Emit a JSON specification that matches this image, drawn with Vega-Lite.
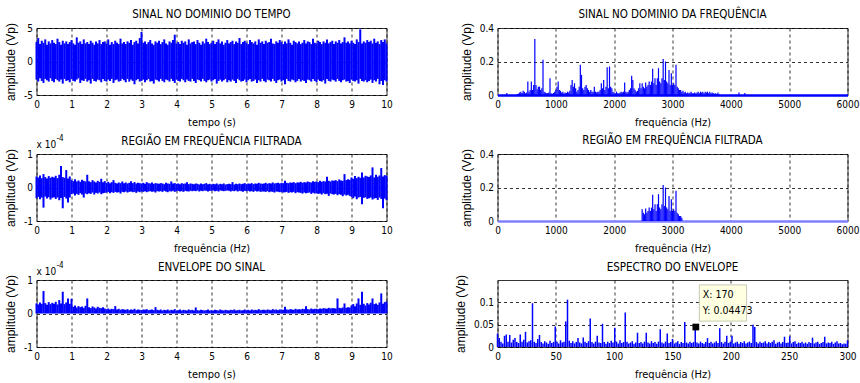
{
"$schema":"https://vega.github.io/schema/vega-lite/v6.json",
"background":"white",
"padding":{"left":3.5,"top":8,"right":0,"bottom":0},
"columns":2,
"spacing":{"row":59,"column":111},
"bounds":"flush",
"datasets":{
"ts":[
{"t":0,"a":2.9,"b":-2.7,"c":0.33,"d":-0.32,"e":0.30},
{"t":0.05,"a":3.5,"b":-3.0,"c":0.30,"d":-0.28,"e":0.27},
{"t":0.1,"a":2.6,"b":-2.5,"c":0.36,"d":-0.35,"e":0.33},
{"t":0.15,"a":3.1,"b":-2.9,"c":0.28,"d":-0.30,"e":0.29},
{"t":0.2,"a":2.8,"b":-3.2,"c":0.40,"d":-0.60,"e":0.67},
{"t":0.25,"a":3.3,"b":-2.6,"c":0.31,"d":-0.27,"e":0.31},
{"t":0.3,"a":2.5,"b":-2.8,"c":0.27,"d":-0.33,"e":0.26},
{"t":0.35,"a":3.0,"b":-3.0,"c":0.34,"d":-0.29,"e":0.34},
{"t":0.4,"a":2.7,"b":-2.5,"c":0.29,"d":-0.36,"e":0.28},
{"t":0.45,"a":3.2,"b":-2.9,"c":0.32,"d":-0.31,"e":0.32},
{"t":0.5,"a":2.8,"b":-3.1,"c":0.30,"d":-0.29,"e":0.29},
{"t":0.55,"a":2.6,"b":-2.6,"c":0.35,"d":-0.34,"e":0.35},
{"t":0.6,"a":3.4,"b":-2.8,"c":0.28,"d":-0.30,"e":0.27},
{"t":0.65,"a":2.9,"b":-3.0,"c":0.38,"d":-0.38,"e":0.40},
{"t":0.7,"a":2.5,"b":-2.7,"c":0.64,"d":-0.31,"e":0.30},
{"t":0.75,"a":3.1,"b":-3.3,"c":0.31,"d":-0.62,"e":0.65},
{"t":0.8,"a":2.7,"b":-2.6,"c":0.29,"d":-0.28,"e":0.28},
{"t":0.85,"a":3.0,"b":-2.9,"c":0.52,"d":-0.33,"e":0.33},
{"t":0.9,"a":2.6,"b":-2.8,"c":0.27,"d":-0.45,"e":0.45},
{"t":0.95,"a":2.9,"b":-3.1,"c":0.33,"d":-0.30,"e":0.29},
{"t":1,"a":3.2,"b":-2.6,"c":0.22,"d":-0.20,"e":0.44},
{"t":1.05,"a":2.7,"b":-2.9,"c":0.19,"d":-0.18,"e":0.20},
{"t":1.1,"a":2.5,"b":-3.0,"c":0.25,"d":-0.24,"e":0.24},
{"t":1.15,"a":3.6,"b":-2.7,"c":0.18,"d":-0.19,"e":0.18},
{"t":1.2,"a":2.8,"b":-2.5,"c":0.21,"d":-0.22,"e":0.22},
{"t":1.25,"a":3.0,"b":-3.2,"c":0.17,"d":-0.17,"e":0.19},
{"t":1.3,"a":2.6,"b":-2.8,"c":0.23,"d":-0.21,"e":0.21},
{"t":1.35,"a":3.3,"b":-2.9,"c":0.20,"d":-0.30,"e":0.17},
{"t":1.4,"a":2.7,"b":-2.6,"c":0.18,"d":-0.18,"e":0.23},
{"t":1.45,"a":2.9,"b":-3.0,"c":0.38,"d":-0.20,"e":0.45},
{"t":1.5,"a":2.6,"b":-2.8,"c":0.19,"d":-0.17,"e":0.19},
{"t":1.55,"a":3.1,"b":-3.3,"c":0.16,"d":-0.19,"e":0.16},
{"t":1.6,"a":2.8,"b":-2.6,"c":0.22,"d":-0.15,"e":0.21},
{"t":1.65,"a":2.5,"b":-2.9,"c":0.18,"d":-0.21,"e":0.18},
{"t":1.7,"a":3.0,"b":-3.0,"c":0.15,"d":-0.16,"e":0.15},
{"t":1.75,"a":2.7,"b":-2.7,"c":0.20,"d":-0.18,"e":0.20},
{"t":1.8,"a":3.2,"b":-2.8,"c":0.17,"d":-0.15,"e":0.17},
{"t":1.85,"a":2.6,"b":-3.1,"c":0.26,"d":-0.20,"e":0.16},
{"t":1.9,"a":2.9,"b":-2.6,"c":0.16,"d":-0.17,"e":0.19},
{"t":1.95,"a":3.0,"b":-2.9,"c":0.19,"d":-0.16,"e":0.15},
{"t":2,"a":2.7,"b":-3.0,"c":0.14,"d":-0.15,"e":0.13},
{"t":2.05,"a":3.3,"b":-2.7,"c":0.17,"d":-0.13,"e":0.15},
{"t":2.1,"a":2.5,"b":-2.9,"c":0.13,"d":-0.17,"e":0.12},
{"t":2.15,"a":2.9,"b":-2.6,"c":0.16,"d":-0.14,"e":0.14},
{"t":2.2,"a":2.6,"b":-3.2,"c":0.22,"d":-0.16,"e":0.13},
{"t":2.25,"a":3.1,"b":-2.8,"c":0.14,"d":-0.13,"e":0.22},
{"t":2.3,"a":2.8,"b":-2.7,"c":0.12,"d":-0.15,"e":0.12},
{"t":2.35,"a":2.6,"b":-3.0,"c":0.15,"d":-0.14,"e":0.14},
{"t":2.4,"a":3.4,"b":-2.9,"c":0.13,"d":-0.18,"e":0.11},
{"t":2.45,"a":2.7,"b":-2.6,"c":0.18,"d":-0.13,"e":0.13},
{"t":2.5,"a":2.9,"b":-2.8,"c":0.13,"d":-0.14,"e":0.12},
{"t":2.55,"a":2.6,"b":-3.1,"c":0.15,"d":-0.12,"e":0.11},
{"t":2.6,"a":3.0,"b":-2.6,"c":0.12,"d":-0.15,"e":0.13},
{"t":2.65,"a":2.8,"b":-3.0,"c":0.14,"d":-0.13,"e":0.10},
{"t":2.7,"a":3.2,"b":-2.7,"c":0.19,"d":-0.12,"e":0.12},
{"t":2.75,"a":2.5,"b":-2.9,"c":0.13,"d":-0.14,"e":0.11},
{"t":2.8,"a":2.9,"b":-3.4,"c":0.16,"d":-0.13,"e":0.14},
{"t":2.85,"a":3.1,"b":-2.8,"c":0.12,"d":-0.16,"e":0.10},
{"t":2.9,"a":2.7,"b":-2.6,"c":0.14,"d":-0.12,"e":0.12},
{"t":2.95,"a":3.5,"b":-3.0,"c":0.13,"d":-0.14,"e":0.11},
{"t":3,"a":4.4,"b":-2.9,"c":0.12,"d":-0.12,"e":0.10},
{"t":3.05,"a":2.8,"b":-2.7,"c":0.14,"d":-0.13,"e":0.12},
{"t":3.1,"a":3.0,"b":-3.1,"c":0.11,"d":-0.11,"e":0.11},
{"t":3.15,"a":2.6,"b":-2.8,"c":0.16,"d":-0.14,"e":0.13},
{"t":3.2,"a":2.9,"b":-2.6,"c":0.13,"d":-0.12,"e":0.10},
{"t":3.25,"a":3.2,"b":-3.0,"c":0.12,"d":-0.11,"e":0.11},
{"t":3.3,"a":2.7,"b":-2.9,"c":0.15,"d":-0.13,"e":0.12},
{"t":3.35,"a":2.5,"b":-3.3,"c":0.11,"d":-0.12,"e":0.10},
{"t":3.4,"a":3.0,"b":-2.7,"c":0.13,"d":-0.15,"e":0.19},
{"t":3.45,"a":2.8,"b":-2.8,"c":0.12,"d":-0.11,"e":0.11},
{"t":3.5,"a":3.1,"b":-3.0,"c":0.11,"d":-0.12,"e":0.10},
{"t":3.55,"a":2.6,"b":-2.6,"c":0.13,"d":-0.11,"e":0.12},
{"t":3.6,"a":2.9,"b":-2.9,"c":0.12,"d":-0.13,"e":0.09},
{"t":3.65,"a":3.3,"b":-3.1,"c":0.10,"d":-0.10,"e":0.11},
{"t":3.7,"a":2.7,"b":-2.7,"c":0.14,"d":-0.12,"e":0.10},
{"t":3.75,"a":2.5,"b":-2.8,"c":0.12,"d":-0.14,"e":0.12},
{"t":3.8,"a":3.0,"b":-3.0,"c":0.11,"d":-0.11,"e":0.09},
{"t":3.85,"a":2.8,"b":-2.6,"c":0.18,"d":-0.12,"e":0.11},
{"t":3.9,"a":3.2,"b":-2.9,"c":0.12,"d":-0.10,"e":0.10},
{"t":3.95,"a":4.0,"b":-3.2,"c":0.13,"d":-0.13,"e":0.13},
{"t":4,"a":2.7,"b":-2.7,"c":0.11,"d":-0.11,"e":0.09},
{"t":4.05,"a":2.9,"b":-2.9,"c":0.12,"d":-0.10,"e":0.10},
{"t":4.1,"a":2.6,"b":-3.0,"c":0.10,"d":-0.12,"e":0.12},
{"t":4.15,"a":3.1,"b":-2.6,"c":0.13,"d":-0.11,"e":0.09},
{"t":4.2,"a":2.8,"b":-2.8,"c":0.11,"d":-0.13,"e":0.11},
{"t":4.25,"a":3.0,"b":-3.1,"c":0.12,"d":-0.10,"e":0.10},
{"t":4.3,"a":2.5,"b":-2.7,"c":0.16,"d":-0.11,"e":0.09},
{"t":4.35,"a":3.3,"b":-2.9,"c":0.10,"d":-0.12,"e":0.12},
{"t":4.4,"a":2.7,"b":-3.0,"c":0.12,"d":-0.10,"e":0.10},
{"t":4.45,"a":2.9,"b":-2.6,"c":0.11,"d":-0.11,"e":0.11},
{"t":4.5,"a":3.0,"b":-2.9,"c":0.10,"d":-0.10,"e":0.09},
{"t":4.55,"a":2.6,"b":-3.2,"c":0.12,"d":-0.11,"e":0.18},
{"t":4.6,"a":3.2,"b":-2.7,"c":0.11,"d":-0.09,"e":0.10},
{"t":4.65,"a":2.8,"b":-2.8,"c":0.09,"d":-0.12,"e":0.09},
{"t":4.7,"a":2.5,"b":-3.0,"c":0.12,"d":-0.10,"e":0.11},
{"t":4.75,"a":3.0,"b":-2.6,"c":0.10,"d":-0.11,"e":0.10},
{"t":4.8,"a":2.7,"b":-2.9,"c":0.11,"d":-0.09,"e":0.09},
{"t":4.85,"a":3.4,"b":-3.1,"c":0.13,"d":-0.10,"e":0.10},
{"t":4.9,"a":2.9,"b":-2.8,"c":0.10,"d":-0.12,"e":0.12},
{"t":4.95,"a":2.6,"b":-2.7,"c":0.11,"d":-0.10,"e":0.09},
{"t":5,"a":2.8,"b":-3.0,"c":0.09,"d":-0.10,"e":0.10},
{"t":5.05,"a":3.1,"b":-2.8,"c":0.11,"d":-0.09,"e":0.09},
{"t":5.1,"a":2.6,"b":-2.6,"c":0.10,"d":-0.11,"e":0.11},
{"t":5.15,"a":2.9,"b":-3.3,"c":0.12,"d":-0.10,"e":0.10},
{"t":5.2,"a":3.3,"b":-2.9,"c":0.09,"d":-0.12,"e":0.09},
{"t":5.25,"a":2.7,"b":-2.7,"c":0.11,"d":-0.09,"e":0.12},
{"t":5.3,"a":3.0,"b":-3.0,"c":0.10,"d":-0.10,"e":0.10},
{"t":5.35,"a":2.5,"b":-2.8,"c":0.12,"d":-0.11,"e":0.09},
{"t":5.4,"a":2.8,"b":-2.6,"c":0.09,"d":-0.10,"e":0.11},
{"t":5.45,"a":3.2,"b":-3.1,"c":0.10,"d":-0.09,"e":0.10},
{"t":5.5,"a":2.7,"b":-2.8,"c":0.11,"d":-0.10,"e":0.09},
{"t":5.55,"a":2.9,"b":-3.0,"c":0.10,"d":-0.12,"e":0.11},
{"t":5.6,"a":3.1,"b":-2.7,"c":0.16,"d":-0.10,"e":0.10},
{"t":5.65,"a":2.6,"b":-2.9,"c":0.09,"d":-0.11,"e":0.12},
{"t":5.7,"a":3.0,"b":-3.2,"c":0.11,"d":-0.09,"e":0.09},
{"t":5.75,"a":2.8,"b":-2.6,"c":0.10,"d":-0.12,"e":0.10},
{"t":5.8,"a":3.5,"b":-2.8,"c":0.12,"d":-0.10,"e":0.11},
{"t":5.85,"a":2.6,"b":-3.0,"c":0.10,"d":-0.11,"e":0.09},
{"t":5.9,"a":2.9,"b":-2.9,"c":0.11,"d":-0.13,"e":0.10},
{"t":5.95,"a":3.1,"b":-2.7,"c":0.13,"d":-0.10,"e":0.12},
{"t":6,"a":2.8,"b":-3.1,"c":0.10,"d":-0.11,"e":0.10},
{"t":6.05,"a":2.6,"b":-2.8,"c":0.12,"d":-0.10,"e":0.11},
{"t":6.1,"a":3.2,"b":-2.6,"c":0.11,"d":-0.12,"e":0.09},
{"t":6.15,"a":2.9,"b":-3.0,"c":0.13,"d":-0.11,"e":0.12},
{"t":6.2,"a":2.7,"b":-2.9,"c":0.10,"d":-0.13,"e":0.10},
{"t":6.25,"a":3.0,"b":-2.7,"c":0.12,"d":-0.10,"e":0.11},
{"t":6.3,"a":2.5,"b":-3.2,"c":0.11,"d":-0.12,"e":0.10},
{"t":6.35,"a":3.3,"b":-2.8,"c":0.14,"d":-0.11,"e":0.13},
{"t":6.4,"a":2.8,"b":-3.0,"c":0.12,"d":-0.13,"e":0.10},
{"t":6.45,"a":3.0,"b":-2.6,"c":0.11,"d":-0.12,"e":0.11},
{"t":6.5,"a":2.6,"b":-2.9,"c":0.12,"d":-0.12,"e":0.11},
{"t":6.55,"a":3.1,"b":-3.1,"c":0.14,"d":-0.13,"e":0.10},
{"t":6.6,"a":2.8,"b":-2.7,"c":0.11,"d":-0.11,"e":0.12},
{"t":6.65,"a":2.9,"b":-2.8,"c":0.13,"d":-0.14,"e":0.11},
{"t":6.7,"a":3.4,"b":-3.0,"c":0.12,"d":-0.12,"e":0.10},
{"t":6.75,"a":2.7,"b":-2.6,"c":0.15,"d":-0.13,"e":0.13},
{"t":6.8,"a":2.6,"b":-2.9,"c":0.12,"d":-0.15,"e":0.11},
{"t":6.85,"a":3.0,"b":-3.2,"c":0.13,"d":-0.12,"e":0.12},
{"t":6.9,"a":2.8,"b":-2.8,"c":0.14,"d":-0.13,"e":0.10},
{"t":6.95,"a":3.2,"b":-2.7,"c":0.12,"d":-0.14,"e":0.12},
{"t":7,"a":2.9,"b":-3.0,"c":0.14,"d":-0.13,"e":0.12},
{"t":7.05,"a":2.6,"b":-2.8,"c":0.13,"d":-0.15,"e":0.11},
{"t":7.1,"a":3.0,"b":-3.4,"c":0.20,"d":-0.14,"e":0.20},
{"t":7.15,"a":2.7,"b":-2.6,"c":0.14,"d":-0.13,"e":0.12},
{"t":7.2,"a":3.3,"b":-2.9,"c":0.13,"d":-0.16,"e":0.11},
{"t":7.25,"a":2.8,"b":-3.0,"c":0.15,"d":-0.14,"e":0.13},
{"t":7.3,"a":2.5,"b":-2.7,"c":0.14,"d":-0.15,"e":0.12},
{"t":7.35,"a":3.1,"b":-2.8,"c":0.16,"d":-0.13,"e":0.11},
{"t":7.4,"a":2.9,"b":-3.1,"c":0.13,"d":-0.17,"e":0.14},
{"t":7.45,"a":2.7,"b":-2.9,"c":0.15,"d":-0.14,"e":0.12},
{"t":7.5,"a":3.0,"b":-2.6,"c":0.15,"d":-0.15,"e":0.13},
{"t":7.55,"a":2.6,"b":-3.0,"c":0.17,"d":-0.16,"e":0.12},
{"t":7.6,"a":2.8,"b":-2.8,"c":0.14,"d":-0.18,"e":0.14},
{"t":7.65,"a":3.2,"b":-2.9,"c":0.16,"d":-0.15,"e":0.13},
{"t":7.7,"a":2.7,"b":-3.2,"c":0.15,"d":-0.17,"e":0.22},
{"t":7.75,"a":3.0,"b":-2.7,"c":0.18,"d":-0.16,"e":0.13},
{"t":7.8,"a":2.9,"b":-2.8,"c":0.16,"d":-0.15,"e":0.12},
{"t":7.85,"a":2.6,"b":-3.0,"c":0.15,"d":-0.19,"e":0.15},
{"t":7.9,"a":3.4,"b":-2.6,"c":0.19,"d":-0.16,"e":0.13},
{"t":7.95,"a":2.8,"b":-2.9,"c":0.17,"d":-0.18,"e":0.14},
{"t":8,"a":2.7,"b":-3.1,"c":0.18,"d":-0.17,"e":0.14},
{"t":8.05,"a":3.1,"b":-2.7,"c":0.16,"d":-0.19,"e":0.13},
{"t":8.1,"a":2.9,"b":-2.9,"c":0.20,"d":-0.18,"e":0.15},
{"t":8.15,"a":2.6,"b":-3.0,"c":0.17,"d":-0.21,"e":0.14},
{"t":8.2,"a":3.0,"b":-2.8,"c":0.19,"d":-0.17,"e":0.16},
{"t":8.25,"a":2.8,"b":-3.3,"c":0.18,"d":-0.20,"e":0.15},
{"t":8.3,"a":3.3,"b":-2.6,"c":0.32,"d":-0.19,"e":0.14},
{"t":8.35,"a":2.7,"b":-2.9,"c":0.20,"d":-0.25,"e":0.17},
{"t":8.4,"a":2.9,"b":-3.0,"c":0.18,"d":-0.18,"e":0.15},
{"t":8.45,"a":3.1,"b":-2.7,"c":0.21,"d":-0.20,"e":0.16},
{"t":8.5,"a":2.6,"b":-2.8,"c":0.20,"d":-0.21,"e":0.16},
{"t":8.55,"a":3.0,"b":-3.0,"c":0.22,"d":-0.19,"e":0.15},
{"t":8.6,"a":2.8,"b":-2.6,"c":0.19,"d":-0.23,"e":0.45},
{"t":8.65,"a":3.2,"b":-2.9,"c":0.24,"d":-0.20,"e":0.17},
{"t":8.7,"a":2.7,"b":-3.1,"c":0.21,"d":-0.22,"e":0.16},
{"t":8.75,"a":2.9,"b":-2.8,"c":0.20,"d":-0.26,"e":0.18},
{"t":8.8,"a":3.6,"b":-2.7,"c":0.40,"d":-0.21,"e":0.30},
{"t":8.85,"a":2.8,"b":-3.0,"c":0.22,"d":-0.24,"e":0.17},
{"t":8.9,"a":3.0,"b":-2.9,"c":0.25,"d":-0.22,"e":0.19},
{"t":8.95,"a":2.7,"b":-3.2,"c":0.23,"d":-0.25,"e":0.18},
{"t":9,"a":3.1,"b":-2.7,"c":0.30,"d":-0.28,"e":0.24},
{"t":9.05,"a":2.8,"b":-2.9,"c":0.26,"d":-0.32,"e":0.28},
{"t":9.1,"a":2.6,"b":-3.0,"c":0.34,"d":-0.27,"e":0.22},
{"t":9.15,"a":3.3,"b":-2.8,"c":0.28,"d":-0.35,"e":0.30},
{"t":9.2,"a":2.9,"b":-3.3,"c":0.32,"d":-0.30,"e":0.45},
{"t":9.25,"a":4.8,"b":-2.6,"c":0.29,"d":-0.28,"e":0.26},
{"t":9.3,"a":2.7,"b":-2.9,"c":0.45,"d":-0.50,"e":0.65},
{"t":9.35,"a":3.0,"b":-3.0,"c":0.30,"d":-0.31,"e":0.29},
{"t":9.4,"a":2.8,"b":-2.8,"c":0.35,"d":-0.29,"e":0.24},
{"t":9.45,"a":3.2,"b":-3.1,"c":0.33,"d":-0.34,"e":0.31},
{"t":9.5,"a":2.9,"b":-2.9,"c":0.31,"d":-0.32,"e":0.27},
{"t":9.55,"a":3.1,"b":-2.7,"c":0.36,"d":-0.30,"e":0.32},
{"t":9.6,"a":2.7,"b":-3.2,"c":0.60,"d":-0.36,"e":0.45},
{"t":9.65,"a":3.4,"b":-2.8,"c":0.30,"d":-0.33,"e":0.28},
{"t":9.7,"a":2.8,"b":-3.0,"c":0.38,"d":-0.31,"e":0.30},
{"t":9.75,"a":3.0,"b":-2.6,"c":0.32,"d":-0.37,"e":0.26},
{"t":9.8,"a":2.6,"b":-3.4,"c":0.36,"d":-0.30,"e":0.33},
{"t":9.85,"a":3.2,"b":-2.9,"c":0.58,"d":-0.34,"e":0.60},
{"t":9.9,"a":2.9,"b":-3.5,"c":0.33,"d":-0.62,"e":0.29},
{"t":9.95,"a":3.3,"b":-2.8,"c":0.37,"d":-0.33,"e":0.34},
{"t":10,"a":2.7,"b":-3.0,"c":0.35,"d":-0.38,"e":0.36}
],
"sp":[
{"f":160,"s":0.012},{"f":340,"s":0.006},{"f":360,"s":0.008},{"f":380,"s":0.015},{"f":400,"s":0.02},{"f":420,"s":0.012},{"f":440,"s":0.025},{"f":460,"s":0.02},{"f":480,"s":0.01},{"f":500,"s":0.015},
{"f":520,"s":0.08},{"f":540,"s":0.02},{"f":560,"s":0.03},{"f":580,"s":0.08},{"f":600,"s":0.03},{"f":620,"s":0.06},{"f":640,"s":0.335},{"f":660,"s":0.06},{"f":680,"s":0.035},{"f":700,"s":0.05},
{"f":720,"s":0.05},{"f":740,"s":0.03},{"f":760,"s":0.04},{"f":780,"s":0.21},{"f":800,"s":0.02},{"f":820,"s":0.015},{"f":840,"s":0.01},{"f":860,"s":0.012},{"f":880,"s":0.015},{"f":900,"s":0.1},
{"f":920,"s":0.01},{"f":940,"s":0.008},{"f":960,"s":0.012},{"f":980,"s":0.02},{"f":1000,"s":0.03},{"f":1020,"s":0.05},{"f":1040,"s":0.08},{"f":1060,"s":0.03},{"f":1080,"s":0.025},{"f":1100,"s":0.015},
{"f":1120,"s":0.02},{"f":1140,"s":0.01},{"f":1160,"s":0.015},{"f":1180,"s":0.012},{"f":1200,"s":0.02},{"f":1220,"s":0.015},{"f":1240,"s":0.025},{"f":1260,"s":0.06},{"f":1280,"s":0.09},{"f":1300,"s":0.05},
{"f":1320,"s":0.07},{"f":1340,"s":0.04},{"f":1360,"s":0.02},{"f":1380,"s":0.03},{"f":1400,"s":0.05},{"f":1420,"s":0.18},{"f":1440,"s":0.12},{"f":1460,"s":0.04},{"f":1480,"s":0.03},{"f":1500,"s":0.05},
{"f":1520,"s":0.06},{"f":1540,"s":0.04},{"f":1560,"s":0.03},{"f":1580,"s":0.02},{"f":1600,"s":0.03},{"f":1620,"s":0.02},{"f":1640,"s":0.02},{"f":1660,"s":0.05},{"f":1680,"s":0.02},{"f":1700,"s":0.015},
{"f":1720,"s":0.02},{"f":1740,"s":0.02},{"f":1760,"s":0.03},{"f":1780,"s":0.07},{"f":1800,"s":0.04},{"f":1820,"s":0.09},{"f":1840,"s":0.03},{"f":1860,"s":0.05},{"f":1880,"s":0.165},{"f":1900,"s":0.04},
{"f":1920,"s":0.17},{"f":1940,"s":0.05},{"f":1960,"s":0.04},{"f":1980,"s":0.02},{"f":2000,"s":0.015},{"f":2020,"s":0.01},{"f":2040,"s":0.02},{"f":2060,"s":0.01},{"f":2080,"s":0.01},{"f":2100,"s":0.015},
{"f":2120,"s":0.02},{"f":2140,"s":0.015},{"f":2160,"s":0.02},{"f":2180,"s":0.075},{"f":2200,"s":0.02},{"f":2220,"s":0.015},{"f":2240,"s":0.02},{"f":2260,"s":0.03},{"f":2280,"s":0.04},{"f":2300,"s":0.115},
{"f":2320,"s":0.09},{"f":2340,"s":0.04},{"f":2360,"s":0.03},{"f":2380,"s":0.02},{"f":2400,"s":0.025},{"f":2420,"s":0.04},{"f":2440,"s":0.07},{"f":2460,"s":0.04},{"f":2480,"s":0.07},{"f":2500,"s":0.05},
{"f":2520,"s":0.04},{"f":2540,"s":0.075},{"f":2560,"s":0.05},{"f":2580,"s":0.06},{"f":2600,"s":0.08},{"f":2620,"s":0.06},{"f":2640,"s":0.08},{"f":2660,"s":0.157},{"f":2680,"s":0.07},{"f":2700,"s":0.1},
{"f":2720,"s":0.06},{"f":2740,"s":0.1},{"f":2760,"s":0.16},{"f":2780,"s":0.08},{"f":2800,"s":0.07},{"f":2820,"s":0.1},{"f":2840,"s":0.215},{"f":2860,"s":0.09},{"f":2880,"s":0.2},{"f":2900,"s":0.08},
{"f":2920,"s":0.07},{"f":2940,"s":0.15},{"f":2960,"s":0.06},{"f":2980,"s":0.13},{"f":3000,"s":0.06},{"f":3020,"s":0.07},{"f":3040,"s":0.06},{"f":3060,"s":0.18},{"f":3080,"s":0.05},{"f":3100,"s":0.04},
{"f":3120,"s":0.03},{"f":3140,"s":0.03},{"f":3160,"s":0.02},{"f":3180,"s":0.025},{"f":3200,"s":0.015},{"f":3220,"s":0.02},{"f":3240,"s":0.01},{"f":3260,"s":0.015},{"f":3280,"s":0.01},{"f":3300,"s":0.015},
{"f":3320,"s":0.02},{"f":3340,"s":0.01},{"f":3360,"s":0.01},{"f":3380,"s":0.015},{"f":3400,"s":0.01},{"f":3420,"s":0.015},{"f":3440,"s":0.02},{"f":3460,"s":0.01},{"f":3480,"s":0.02},{"f":3500,"s":0.015},
{"f":3520,"s":0.02},{"f":3540,"s":0.01},{"f":3560,"s":0.02},{"f":3580,"s":0.015},{"f":3600,"s":0.02},{"f":3620,"s":0.01},{"f":3640,"s":0.02},{"f":3660,"s":0.01},{"f":3680,"s":0.015},{"f":3700,"s":0.01},
{"f":3720,"s":0.008},{"f":3740,"s":0.01},{"f":3760,"s":0.006},{"f":3780,"s":0.015},{"f":3800,"s":0.005},{"f":4140,"s":0.015},{"f":4240,"s":0.012}
],
"es":[
{"f":0,"v":0.030},{"f":1.5,"v":0.020},{"f":3,"v":0.012},{"f":4.5,"v":0.008},{"f":6,"v":0.025},{"f":7.5,"v":0.028},{"f":9,"v":0.012},{"f":10.5,"v":0.027},{"f":12,"v":0.010},{"f":13.5,"v":0.016},
{"f":15,"v":0.020},{"f":16.5,"v":0.011},{"f":18,"v":0.009},{"f":19.5,"v":0.028},{"f":21,"v":0.012},{"f":22.5,"v":0.016},{"f":24,"v":0.034},{"f":25.5,"v":0.010},{"f":27,"v":0.013},{"f":28.5,"v":0.015},
{"f":30,"v":0.098},{"f":31.5,"v":0.012},{"f":33,"v":0.009},{"f":34.5,"v":0.018},{"f":36,"v":0.027},{"f":37.5,"v":0.011},{"f":39,"v":0.008},{"f":40.5,"v":0.013},{"f":42,"v":0.010},{"f":43.5,"v":0.007},
{"f":45,"v":0.014},{"f":46.5,"v":0.009},{"f":48,"v":0.011},{"f":49.5,"v":0.046},{"f":51,"v":0.012},{"f":52.5,"v":0.008},{"f":54,"v":0.015},{"f":55.5,"v":0.010},{"f":57,"v":0.012},{"f":58.5,"v":0.057},
{"f":60,"v":0.106},{"f":61.5,"v":0.014},{"f":63,"v":0.009},{"f":64.5,"v":0.013},{"f":66,"v":0.008},{"f":67.5,"v":0.011},{"f":69,"v":0.020},{"f":70.5,"v":0.010},{"f":72,"v":0.008},{"f":73.5,"v":0.021},
{"f":75,"v":0.012},{"f":76.5,"v":0.009},{"f":78,"v":0.013},{"f":79.5,"v":0.064},{"f":81,"v":0.011},{"f":82.5,"v":0.008},{"f":84,"v":0.012},{"f":85.5,"v":0.025},{"f":87,"v":0.010},{"f":88.5,"v":0.009},
{"f":90,"v":0.052},{"f":91.5,"v":0.011},{"f":93,"v":0.007},{"f":94.5,"v":0.012},{"f":96,"v":0.009},{"f":97.5,"v":0.014},{"f":99,"v":0.010},{"f":100.5,"v":0.043},{"f":102,"v":0.012},{"f":103.5,"v":0.008},
{"f":105,"v":0.015},{"f":106.5,"v":0.009},{"f":108,"v":0.011},{"f":109.5,"v":0.077},{"f":111,"v":0.012},{"f":112.5,"v":0.008},{"f":114,"v":0.010},{"f":115.5,"v":0.013},{"f":117,"v":0.007},{"f":118.5,"v":0.010},
{"f":120,"v":0.032},{"f":121.5,"v":0.009},{"f":123,"v":0.011},{"f":124.5,"v":0.008},{"f":126,"v":0.012},{"f":127.5,"v":0.032},{"f":129,"v":0.010},{"f":130.5,"v":0.008},{"f":132,"v":0.013},{"f":133.5,"v":0.009},
{"f":135,"v":0.011},{"f":136.5,"v":0.007},{"f":138,"v":0.012},{"f":139.5,"v":0.040},{"f":141,"v":0.010},{"f":142.5,"v":0.008},{"f":144,"v":0.012},{"f":145.5,"v":0.030},{"f":147,"v":0.009},{"f":148.5,"v":0.011},
{"f":150,"v":0.018},{"f":151.5,"v":0.008},{"f":153,"v":0.010},{"f":154.5,"v":0.013},{"f":156,"v":0.007},{"f":157.5,"v":0.011},{"f":159,"v":0.009},{"f":160.5,"v":0.056},{"f":162,"v":0.010},{"f":163.5,"v":0.008},
{"f":165,"v":0.012},{"f":166.5,"v":0.009},{"f":168,"v":0.011},{"f":169.5,"v":0.045},{"f":171,"v":0.010},{"f":172.5,"v":0.008},{"f":174,"v":0.012},{"f":175.5,"v":0.009},{"f":177,"v":0.007},{"f":178.5,"v":0.011},
{"f":180,"v":0.020},{"f":181.5,"v":0.009},{"f":183,"v":0.012},{"f":184.5,"v":0.008},{"f":186,"v":0.010},{"f":187.5,"v":0.013},{"f":189,"v":0.009},{"f":190.5,"v":0.042},{"f":192,"v":0.011},{"f":193.5,"v":0.008},
{"f":195,"v":0.012},{"f":196.5,"v":0.025},{"f":198,"v":0.009},{"f":199.5,"v":0.011},{"f":201,"v":0.025},{"f":202.5,"v":0.008},{"f":204,"v":0.010},{"f":205.5,"v":0.012},{"f":207,"v":0.007},{"f":208.5,"v":0.011},
{"f":210,"v":0.009},{"f":211.5,"v":0.013},{"f":213,"v":0.008},{"f":214.5,"v":0.010},{"f":216,"v":0.012},{"f":217.5,"v":0.009},{"f":219,"v":0.050},{"f":220.5,"v":0.045},{"f":222,"v":0.011},{"f":223.5,"v":0.008},
{"f":225,"v":0.012},{"f":226.5,"v":0.009},{"f":228,"v":0.010},{"f":229.5,"v":0.013},{"f":231,"v":0.008},{"f":232.5,"v":0.011},{"f":234,"v":0.009},{"f":235.5,"v":0.012},{"f":237,"v":0.015},{"f":238.5,"v":0.007},
{"f":240,"v":0.010},{"f":241.5,"v":0.012},{"f":243,"v":0.008},{"f":244.5,"v":0.011},{"f":246,"v":0.023},{"f":247.5,"v":0.009},{"f":249,"v":0.010},{"f":250.5,"v":0.024},{"f":252,"v":0.008},{"f":253.5,"v":0.011},
{"f":255,"v":0.013},{"f":256.5,"v":0.007},{"f":258,"v":0.010},{"f":259.5,"v":0.009},{"f":261,"v":0.012},{"f":262.5,"v":0.008},{"f":264,"v":0.010},{"f":265.5,"v":0.007},{"f":267,"v":0.011},{"f":268.5,"v":0.009},
{"f":270,"v":0.021},{"f":271.5,"v":0.008},{"f":273,"v":0.010},{"f":274.5,"v":0.012},{"f":276,"v":0.007},{"f":277.5,"v":0.009},{"f":279,"v":0.011},{"f":280.5,"v":0.023},{"f":282,"v":0.008},{"f":283.5,"v":0.010},
{"f":285,"v":0.009},{"f":286.5,"v":0.012},{"f":288,"v":0.007},{"f":289.5,"v":0.010},{"f":291,"v":0.013},{"f":292.5,"v":0.008},{"f":294,"v":0.009},{"f":295.5,"v":0.006},{"f":297,"v":0.008},{"f":298.5,"v":0.007},
{"f":300,"v":0.015}
]
},
"concat":[
{"title":{"text":"SINAL NO DOMINIO DO TEMPO","offset":2},"width":350,"height":67,"data":{"name":"ts"},
 "mark":{"type":"rule","color":"#0000ff","strokeWidth":2},
 "encoding":{
  "x":{"field":"t","type":"quantitative","scale":{"domain":[0,10],"nice":false},"axis":{"title":"tempo (s)","values":[0,1,2,3,4,5,6,7,8,9,10],"format":"d","labelOverlap":false}},
  "y":{"field":"b","type":"quantitative","scale":{"domain":[-5,5],"nice":false},"axis":{"title":"amplitude (Vp)","values":[-5,0,5],"format":"~g","labelExpr":"replace(datum.label,'−','-')","labelOverlap":false}},
  "y2":{"field":"a"}}},
{"title":{"text":"SINAL NO DOMINIO DA FREQUÊNCIA","offset":2},"width":350,"height":67,"data":{"name":"sp"},
 "mark":{"type":"rule","color":"#0000ff","strokeWidth":1.2},
 "encoding":{
  "x":{"field":"f","type":"quantitative","scale":{"domain":[0,6000],"nice":false},"axis":{"title":"frequência (Hz)","values":[0,1000,2000,3000,4000,5000,6000],"format":"d","labelOverlap":false,"domain":true,"domainColor":"#0000ff","domainWidth":2.5}},
  "y":{"field":"s","type":"quantitative","scale":{"domain":[0,0.4],"nice":false},"axis":{"title":"amplitude (Vp)","values":[0,0.2,0.4],"format":"~g","labelOverlap":false}},
  "y2":{"datum":0}}},
{"title":{"text":"REGIÃO EM FREQUÊNCIA FILTRADA","offset":-12},"width":350,"height":67,
 "layer":[
  {"data":{"name":"ts"},"mark":{"type":"rule","color":"#0000ff","strokeWidth":2},
   "encoding":{
    "x":{"field":"t","type":"quantitative","scale":{"domain":[0,10],"nice":false},"axis":{"title":"frequência (Hz)","values":[0,1,2,3,4,5,6,7,8,9,10],"format":"d","labelOverlap":false}},
    "y":{"field":"d","type":"quantitative","scale":{"domain":[-1,1],"nice":false},"axis":{"title":"amplitude (Vp)","values":[-1,0,1],"format":"~g","labelExpr":"replace(datum.label,'−','-')","labelOverlap":false}},
    "y2":{"field":"c"}}},
  {"data":{"values":[{}]},"mark":{"type":"text","text":"x 10","align":"left","baseline":"alphabetic","dy":-6,"fontSize":10},
   "encoding":{
    "x":{"datum":0,"type":"quantitative","scale":{"domain":[0,10],"nice":false},"axis":{"title":"frequência (Hz)","values":[0,1,2,3,4,5,6,7,8,9,10],"format":"d","labelOverlap":false}},
    "y":{"datum":1,"type":"quantitative","scale":{"domain":[-1,1],"nice":false},"axis":{"title":"amplitude (Vp)","values":[-1,0,1],"format":"~g","labelExpr":"replace(datum.label,'−','-')","labelOverlap":false}}}},
  {"data":{"values":[{}]},"mark":{"type":"text","text":"-4","align":"left","baseline":"alphabetic","dx":20,"dy":-13,"fontSize":8},
   "encoding":{
    "x":{"datum":0,"type":"quantitative","scale":{"domain":[0,10],"nice":false},"axis":{"title":"frequência (Hz)","values":[0,1,2,3,4,5,6,7,8,9,10],"format":"d","labelOverlap":false}},
    "y":{"datum":1,"type":"quantitative","scale":{"domain":[-1,1],"nice":false},"axis":{"title":"amplitude (Vp)","values":[-1,0,1],"format":"~g","labelExpr":"replace(datum.label,'−','-')","labelOverlap":false}}}}
 ]},
{"title":{"text":"REGIÃO EM FREQUÊNCIA FILTRADA","offset":2},"width":350,"height":67,"data":{"name":"sp"},
 "transform":[{"filter":"datum.f >= 2470 && datum.f <= 3170"}],
 "mark":{"type":"rule","color":"#0000ff","strokeWidth":1.2},
 "encoding":{
  "x":{"field":"f","type":"quantitative","scale":{"domain":[0,6000],"nice":false},"axis":{"title":"frequência (Hz)","values":[0,1000,2000,3000,4000,5000,6000],"format":"d","labelOverlap":false,"domain":true,"domainColor":"#7f7fff","domainWidth":2.5}},
  "y":{"field":"s","type":"quantitative","scale":{"domain":[0,0.4],"nice":false},"axis":{"title":"amplitude (Vp)","values":[0,0.2,0.4],"format":"~g","labelOverlap":false}},
  "y2":{"datum":0}}},
{"title":{"text":"ENVELOPE DO SINAL","offset":-11},"width":350,"height":67,
 "layer":[
  {"data":{"name":"ts"},"mark":{"type":"rule","color":"#0000ff","strokeWidth":2},
   "encoding":{
    "x":{"field":"t","type":"quantitative","scale":{"domain":[0,10],"nice":false},"axis":{"title":"tempo (s)","values":[0,1,2,3,4,5,6,7,8,9,10],"format":"d","labelOverlap":false}},
    "y":{"field":"e","type":"quantitative","scale":{"domain":[-1,1],"nice":false},"axis":{"title":"amplitude (Vp)","values":[-1,0,1],"format":"~g","labelExpr":"replace(datum.label,'−','-')","labelOverlap":false}},
    "y2":{"datum":0}}},
  {"data":{"values":[{}]},"mark":{"type":"text","text":"x 10","align":"left","baseline":"alphabetic","dy":-5,"fontSize":10},
   "encoding":{
    "x":{"datum":0,"type":"quantitative","scale":{"domain":[0,10],"nice":false},"axis":{"title":"tempo (s)","values":[0,1,2,3,4,5,6,7,8,9,10],"format":"d","labelOverlap":false}},
    "y":{"datum":1,"type":"quantitative","scale":{"domain":[-1,1],"nice":false},"axis":{"title":"amplitude (Vp)","values":[-1,0,1],"format":"~g","labelExpr":"replace(datum.label,'−','-')","labelOverlap":false}}}},
  {"data":{"values":[{}]},"mark":{"type":"text","text":"-4","align":"left","baseline":"alphabetic","dx":20,"dy":-12,"fontSize":8},
   "encoding":{
    "x":{"datum":0,"type":"quantitative","scale":{"domain":[0,10],"nice":false},"axis":{"title":"tempo (s)","values":[0,1,2,3,4,5,6,7,8,9,10],"format":"d","labelOverlap":false}},
    "y":{"datum":1,"type":"quantitative","scale":{"domain":[-1,1],"nice":false},"axis":{"title":"amplitude (Vp)","values":[-1,0,1],"format":"~g","labelExpr":"replace(datum.label,'−','-')","labelOverlap":false}}}}
 ]},
{"title":{"text":"ESPECTRO DO ENVELOPE","offset":1},"width":350,"height":67,
 "layer":[
  {"data":{"name":"es"},"mark":{"type":"rule","color":"#0000ff","strokeWidth":1.5},
   "encoding":{
    "x":{"field":"f","type":"quantitative","scale":{"domain":[0,300],"nice":false},"axis":{"title":"frequência (Hz)","values":[0,50,100,150,200,250,300],"format":"d","labelOverlap":false}},
    "y":{"field":"v","type":"quantitative","scale":{"domain":[0,0.15],"nice":false},"axis":{"title":"amplitude (Vp)","values":[0,0.05,0.1],"format":"~g","labelOverlap":false}},
    "y2":{"datum":0}}},
  {"data":{"values":[{}]},"mark":{"type":"rect","fill":"#ffffe1","stroke":"#c8c8b4","strokeWidth":1},
   "encoding":{
    "x":{"datum":173,"type":"quantitative","scale":{"domain":[0,300],"nice":false},"axis":{"title":"frequência (Hz)","values":[0,50,100,150,200,250,300],"format":"d","labelOverlap":false}},
    "x2":{"datum":213.5},
    "y":{"datum":0.058,"type":"quantitative","scale":{"domain":[0,0.15],"nice":false},"axis":{"title":"amplitude (Vp)","values":[0,0.05,0.1],"format":"~g","labelOverlap":false}},
    "y2":{"datum":0.139}}},
  {"data":{"values":[{}]},"mark":{"type":"text","text":"X: 170","align":"left","baseline":"middle","fontSize":10.5},
   "encoding":{
    "x":{"datum":176,"type":"quantitative","scale":{"domain":[0,300],"nice":false},"axis":{"title":"frequência (Hz)","values":[0,50,100,150,200,250,300],"format":"d","labelOverlap":false}},
    "y":{"datum":0.116,"type":"quantitative","scale":{"domain":[0,0.15],"nice":false},"axis":{"title":"amplitude (Vp)","values":[0,0.05,0.1],"format":"~g","labelOverlap":false}}}},
  {"data":{"values":[{}]},"mark":{"type":"text","text":"Y: 0.04473","align":"left","baseline":"middle","fontSize":10.5},
   "encoding":{
    "x":{"datum":176,"type":"quantitative","scale":{"domain":[0,300],"nice":false},"axis":{"title":"frequência (Hz)","values":[0,50,100,150,200,250,300],"format":"d","labelOverlap":false}},
    "y":{"datum":0.0815,"type":"quantitative","scale":{"domain":[0,0.15],"nice":false},"axis":{"title":"amplitude (Vp)","values":[0,0.05,0.1],"format":"~g","labelOverlap":false}}}},
  {"data":{"values":[{}]},"mark":{"type":"point","shape":"square","filled":true,"color":"#000000","size":45,"opacity":1},
   "encoding":{
    "x":{"datum":170,"type":"quantitative","scale":{"domain":[0,300],"nice":false},"axis":{"title":"frequência (Hz)","values":[0,50,100,150,200,250,300],"format":"d","labelOverlap":false}},
    "y":{"datum":0.04473,"type":"quantitative","scale":{"domain":[0,0.15],"nice":false},"axis":{"title":"amplitude (Vp)","values":[0,0.05,0.1],"format":"~g","labelOverlap":false}}}}
 ]}
],
"config":{
 "font":"Liberation Sans Narrow, DejaVu Sans Condensed, Liberation Sans, sans-serif",
 "text":{"font":"Liberation Sans Narrow, DejaVu Sans Condensed, Liberation Sans, sans-serif"},
 "view":{"stroke":"#333333","strokeWidth":1},
 "title":{"font":"Liberation Sans Narrow, DejaVu Sans Condensed, Liberation Sans, sans-serif","fontSize":11.5,"fontWeight":"normal","color":"#000000"},
 "axis":{"labelFont":"Liberation Sans Narrow, DejaVu Sans Condensed, Liberation Sans, sans-serif","labelFontSize":10,"labelColor":"#000000","labelPadding":4,"labelOverlap":false,"labelFlush":false,
   "titleFont":"Liberation Sans Narrow, DejaVu Sans Condensed, Liberation Sans, sans-serif","titleFontSize":11,"titleFontWeight":"normal","titleColor":"#000000",
   "grid":true,"gridColor":"#000000","gridDash":[3,3],"gridOpacity":0.8,"gridWidth":1,
   "domain":false,"ticks":false},
 "axisX":{"titlePadding":7},
 "axisY":{"titleFont":"Liberation Sans","titleFontSize":12,"titlePadding":6}
}
}
